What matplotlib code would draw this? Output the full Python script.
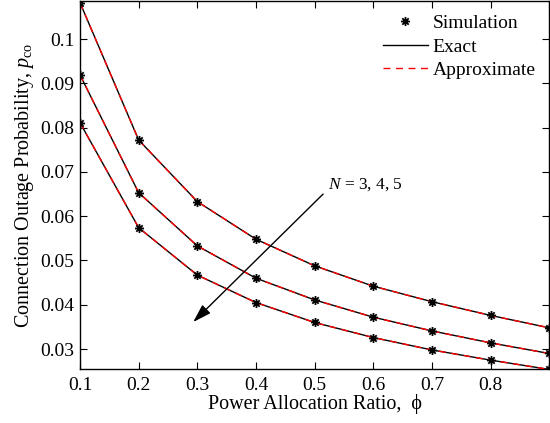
import matplotlib
matplotlib.use("Agg")
import matplotlib.pyplot as plt
from matplotlib.path import Path
import numpy as np

plt.rcParams['font.family'] = ['Liberation Serif', 'DejaVu Serif']
plt.rcParams['mathtext.fontset'] = 'custom'
plt.rcParams['mathtext.rm'] = 'Liberation Serif'
plt.rcParams['mathtext.it'] = 'Liberation Serif:italic'

phi = [0.1, 0.2, 0.3, 0.4, 0.5, 0.6, 0.7, 0.8, 0.9]
p_N3 = [0.1082, 0.0772, 0.0633, 0.0548, 0.0488, 0.0442, 0.0407, 0.0376, 0.0348]
p_N4 = [0.0919, 0.0653, 0.0533, 0.0460, 0.0411, 0.0372, 0.0341, 0.0314, 0.0290]
p_N5 = [0.0811, 0.0574, 0.0467, 0.0405, 0.0360, 0.0326, 0.0298, 0.0275, 0.0254]
series = [p_N3, p_N4, p_N5]

xticks = [0.1, 0.2, 0.3, 0.4, 0.5, 0.6, 0.7, 0.8, 0.9]
xticklabels = ['0.1', '0.2', '0.3', '0.4', '0.5', '0.6', '0.7', '0.8', '']
yticks = [0.03, 0.04, 0.05, 0.06, 0.07, 0.08, 0.09, 0.1]
yticklabels = ['0.03', '0.04', '0.05', '0.06', '0.07', '0.08', '0.09', '0.1']

# MATLAB-like asterisk marker (8 arms)
verts, codes = [], []
for a in np.deg2rad([0, 45, 90, 135]):
    c, s = np.cos(a), np.sin(a)
    verts += [(-c, -s), (c, s)]
    codes += [Path.MOVETO, Path.LINETO]
asterisk = Path(verts, codes)

fig = plt.figure(figsize=(5.5, 4.23), dpi=100)
ax = fig.add_axes([0.1455, 0.1277, 0.853, 0.870])

for i, s in enumerate(series):
    ax.plot(phi, s, color='black', lw=1.0, label='Exact' if i == 0 else None, zorder=2)
    ax.plot(phi, s, color='red', lw=1.0, ls=(0, (5, 4)), label='Approximate' if i == 0 else None, zorder=3)
    ax.plot(phi, s, ls='none', marker=asterisk, color='black', ms=6.5, mew=1.3,
            label='Simulation' if i == 0 else None, zorder=4)

ax.set_xlim(0.1, 0.9)
ax.set_ylim(0.0255, 0.1086)
ax.set_xticks(xticks)
ax.set_xticklabels(xticklabels)
ax.set_yticks(yticks)
ax.set_yticklabels(yticklabels)
ax.tick_params(direction='in', top=True, right=True, labelsize=14, length=5)
ax.tick_params(axis='x', pad=6)
ax.tick_params(axis='y', pad=4)
for sp in ax.spines.values():
    sp.set_linewidth(1.0)

ax.set_xlabel('Power Allocation Ratio,  ϕ', fontsize=14.5, labelpad=0)
ax.set_ylabel(r'Connection Outage Probability, $p_{\mathrm{co}}$', fontsize=14.5, labelpad=3)

handles, labels = ax.get_legend_handles_labels()
order = [labels.index('Simulation'), labels.index('Exact'), labels.index('Approximate')]
ax.legend([handles[k] for k in order], [labels[k] for k in order], loc='upper right',
          frameon=False, fontsize=14, handlelength=2.3, handletextpad=0.25,
          labelspacing=0.3, borderaxespad=0.3)

ax.annotate('', xy=(0.293, 0.0361), xytext=(0.5145, 0.065),
            arrowprops=dict(arrowstyle='-|>,head_length=0.7,head_width=0.22', color='black',
                            lw=1.0, mutation_scale=16, shrinkA=0, shrinkB=0))
ax.text(0.523, 0.0652, r'$N$ = 3, 4, 5', fontsize=12.5, ha='left', va='bottom')

fig.savefig('out.png', dpi=100)
